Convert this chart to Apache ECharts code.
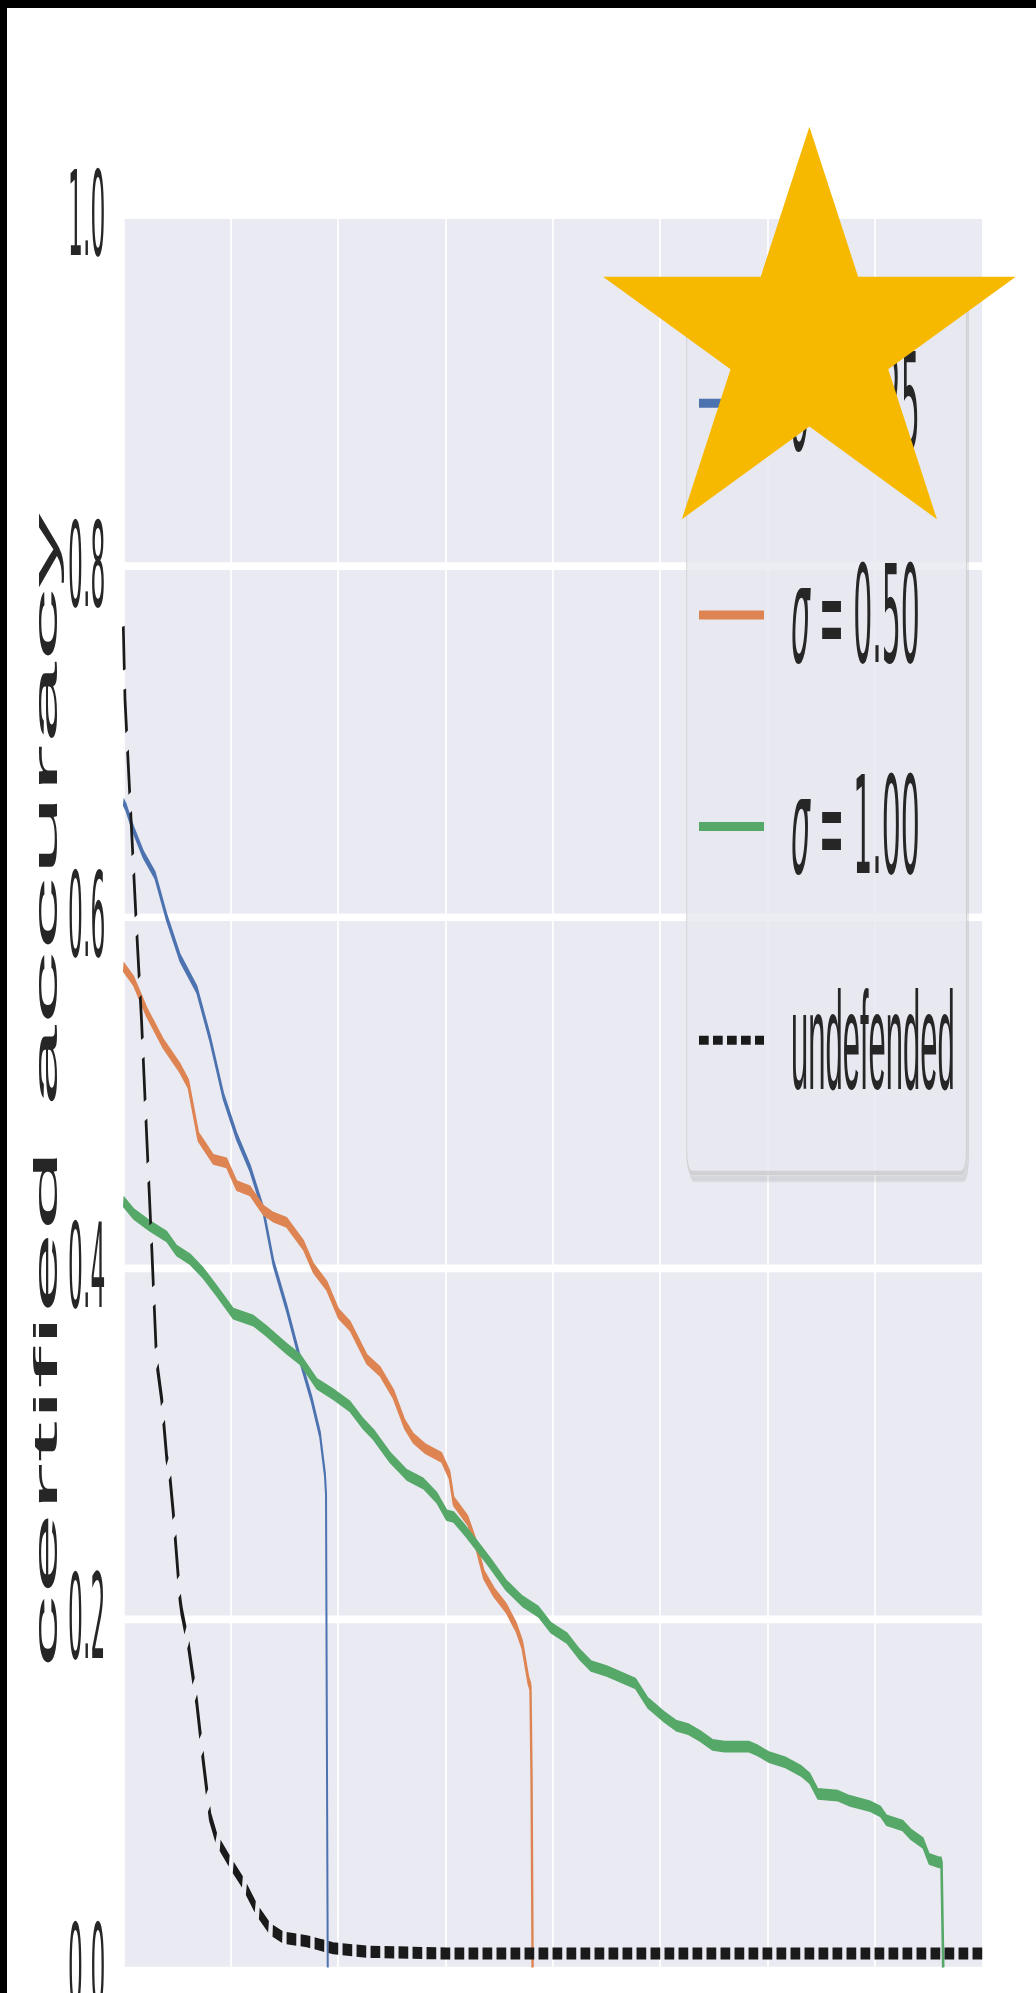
<!DOCTYPE html>
<html>
<head>
<meta charset="utf-8">
<script src="https://cdn.jsdelivr.net/npm/echarts@6/dist/echarts.min.js"></script>
<style>
html, body { margin: 0; padding: 0; background: #000; width: 1036px; height: 1993px; overflow: hidden; }
#page { position: absolute; left: 7px; top: 8px; width: 1029px; height: 1985px; background: #fff; overflow: hidden; }
#chart { position: absolute; left: 0; top: 0; width: 1029px; height: 441px; transform: scaleY(4.501134); transform-origin: 0 0; }
</style>
</head>
<body>
<div id="page"><div id="chart"></div></div>
<script>
// ---------------- data ----------------
const seriesNames = ['σ = 0.25', 'σ = 0.50', 'σ = 1.00', 'undefended'];
const yTickLabels = ['0.0', '0.2', '0.4', '0.6', '0.8', '1.0'];

const sigma025Radius = [0, 0.012, 0.047, 0.093, 0.148, 0.202, 0.264, 0.342, 0.404, 0.466, 0.528, 0.59, 0.652, 0.699, 0.761, 0.823, 0.877, 0.916, 0.939, 0.944, 0.948, 0.952];
const sigma025Acc    = [0.665, 0.662, 0.649, 0.635, 0.623, 0.599, 0.576, 0.558, 0.530, 0.497, 0.474, 0.456, 0.432, 0.402, 0.376, 0.347, 0.324, 0.304, 0.281, 0.270, 0.130, 0.000];

const sigma050Radius = [0, 0.047, 0.109, 0.186, 0.264, 0.303, 0.349, 0.419, 0.481, 0.528, 0.59, 0.652, 0.699, 0.761, 0.839, 0.885, 0.947, 1.002, 1.056, 1.134, 1.196, 1.258, 1.31, 1.35, 1.406, 1.482, 1.519, 1.538, 1.604, 1.641, 1.679, 1.726, 1.783, 1.83, 1.858, 1.886, 1.896, 1.901, 1.906];
const sigma050Acc    = [0.571, 0.563, 0.545, 0.527, 0.513, 0.504, 0.474, 0.461, 0.459, 0.446, 0.443, 0.432, 0.428, 0.425, 0.412, 0.399, 0.389, 0.373, 0.366, 0.347, 0.340, 0.327, 0.310, 0.302, 0.296, 0.291, 0.281, 0.266, 0.255, 0.242, 0.224, 0.214, 0.205, 0.194, 0.184, 0.164, 0.160, 0.108, 0.000];

const sigma100Radius = [0, 0.047, 0.124, 0.202, 0.248, 0.311, 0.373, 0.435, 0.512, 0.606, 0.668, 0.761, 0.823, 0.901, 0.978, 1.056, 1.118, 1.165, 1.242, 1.32, 1.398, 1.46, 1.506, 1.538, 1.594, 1.651, 1.707, 1.783, 1.858, 1.933, 1.99, 2.065, 2.122, 2.178, 2.254, 2.31, 2.385, 2.442, 2.518, 2.574, 2.631, 2.687, 2.744, 2.8, 2.913, 2.951, 3.007, 3.083, 3.158, 3.196, 3.234, 3.328, 3.384, 3.478, 3.526, 3.554, 3.629, 3.667, 3.724, 3.752, 3.799, 3.81, 3.818];
const sigma100Acc    = [0.437, 0.430, 0.423, 0.417, 0.409, 0.404, 0.396, 0.386, 0.373, 0.369, 0.363, 0.353, 0.347, 0.333, 0.327, 0.320, 0.310, 0.304, 0.291, 0.281, 0.276, 0.268, 0.258, 0.257, 0.249, 0.240, 0.231, 0.218, 0.209, 0.203, 0.194, 0.188, 0.179, 0.172, 0.169, 0.166, 0.162, 0.151, 0.143, 0.138, 0.136, 0.132, 0.127, 0.126, 0.126, 0.124, 0.120, 0.117, 0.112, 0.108, 0.099, 0.098, 0.095, 0.092, 0.089, 0.084, 0.081, 0.076, 0.071, 0.062, 0.060, 0.060, 0.000];

const undefRadius = [0, 0.008, 0.031, 0.062, 0.085, 0.109, 0.132, 0.155, 0.179, 0.202, 0.217, 0.233, 0.264, 0.272, 0.303, 0.342, 0.373, 0.404, 0.435, 0.497, 0.559, 0.621, 0.683, 0.745, 0.854, 0.916, 0.977, 1.133, 1.5, 2.0, 2.5, 3.0, 3.5, 4.0];
const undefAcc    = [0.765, 0.723, 0.667, 0.592, 0.540, 0.474, 0.412, 0.346, 0.324, 0.291, 0.280, 0.259, 0.210, 0.203, 0.184, 0.151, 0.117, 0.086, 0.073, 0.060, 0.048, 0.033, 0.022, 0.017, 0.015, 0.013, 0.011, 0.009, 0.008, 0.008, 0.008, 0.008, 0.008, 0.008];

// ---------------- layout helpers ----------------
const S = 1985 / 441;              // vertical stretch of the picture
const OX = 7, OY = 8;              // black border offset
const cy = sy => (sy - OY) / S;    // screen y -> chart y
const cx = sx => sx - OX;          // screen x -> chart x

const zip = (xs, ys) => xs.map((x, i) => [x, ys[i]]);
const TXT = '#262626';

// star decoration (regular five-pointed star on screen)
const starCX = 809.4, starCY = 343.7, starR = 217, starr = 217 * 0.382;
const starPts = [];
for (let i = 0; i < 10; i++) {
  const a = i * Math.PI / 5;
  const rho = (i % 2 === 0) ? starR : starr;
  starPts.push([cx(starCX + rho * Math.sin(a)), cy(starCY - rho * Math.cos(a))]);
}

const chart = echarts.init(document.getElementById('chart'), null, { renderer: 'svg' });

const gridLeft = cx(123.3), gridRight = 1029 - cx(982.3);
const gridTop = cy(214.5), gridBottom = 441 - cy(1967.5);

const lineSeries = (name, data, color, width, type) => ({
  name, type: 'line', data, showSymbol: false, symbol: 'none', smooth: false,
  lineStyle: { color, width, type: type || 'solid' },
  itemStyle: { color }, emphasis: { disabled: true }, clip: true
});

chart.setOption({
  animation: false,
  backgroundColor: 'transparent',
  grid: {
    left: gridLeft, right: gridRight, top: gridTop, bottom: gridBottom,
    show: true, backgroundColor: '#EAEAF2', borderWidth: 0,
    containLabel: false, outerBoundsMode: 'none'
  },
  xAxis: {
    type: 'value', min: 0, max: 4, interval: 0.5,
    axisLine: { show: false }, axisTick: { show: false }, axisLabel: { show: false },
    splitLine: { show: true, showMinLine: true, showMaxLine: true, lineStyle: { color: '#ffffff', width: 1.7 } }
  },
  yAxis: {
    type: 'value', min: 0, max: 1, interval: 0.2,
    axisLine: { show: false }, axisTick: { show: false },
    axisLabel: {
      margin: 18, color: TXT, fontSize: 26,
      fontFamily: "'Liberation Sans Narrow', 'DejaVu Sans Condensed', 'Liberation Sans', sans-serif",
      formatter: v => yTickLabels[Math.round(v / 0.2)]
    },
    splitLine: { show: true, showMinLine: true, showMaxLine: true, lineStyle: { color: '#ffffff', width: 1.7 } },
    name: 'certified accuracy', nameLocation: 'middle', nameGap: 61, nameMoveOverlap: false,
    nameTextStyle: { color: TXT, fontSize: 33, fontFamily: "'Liberation Sans', Arial, sans-serif" }
  },
  legend: {
    orient: 'vertical', left: cx(686.7), top: cy(280),
    padding: [12.4, 11.7, 14, 11.3], itemGap: 17, itemWidth: 65, itemHeight: 20,
    selectedMode: false,
    itemStyle: { opacity: 0 },
    backgroundColor: 'rgba(234,234,242,0.8)', borderColor: 'rgba(204,204,204,0.8)', borderWidth: 1, borderRadius: 5,
    shadowColor: 'rgba(0,0,0,0.10)', shadowOffsetX: 2, shadowOffsetY: 1.5, shadowBlur: 0,
    data: seriesNames,
    formatter: name => name === 'undefended' ? '{u|undefended}' : '{s|σ}{e|=}{n|' + name.split('= ')[1] + '}',
    textStyle: {
      color: TXT, padding: [0, 0, 0, 22], lineHeight: 30,
      rich: {
        s: { fontFamily: "'DejaVu Sans'", fontStyle: 'italic', fontSize: 30, lineHeight: 30, color: TXT },
        e: { fontFamily: "'DejaVu Sans'", fontSize: 30, lineHeight: 30, color: TXT, padding: [0, 9, 0, 9] },
        n: { fontFamily: "'DejaVu Sans'", fontSize: 30, lineHeight: 30, color: TXT },
        u: { fontFamily: "'Liberation Sans', Arial, sans-serif", fontSize: 31, lineHeight: 30, color: TXT }
      }
    }
  },
  series: [
    lineSeries(seriesNames[0], zip(sigma025Radius, sigma025Acc), '#4C72B0', 2.0),
    lineSeries(seriesNames[1], zip(sigma050Radius, sigma050Acc), '#DD8452', 2.4),
    lineSeries(seriesNames[2], zip(sigma100Radius, sigma100Acc), '#55A868', 2.6),
    lineSeries(seriesNames[3], zip(undefRadius, undefAcc), '#1a1a1a', 2.7, [9.7, 4.3])
  ],
  graphic: [{
    type: 'polygon', z: 1000, silent: true,
    shape: { points: starPts },
    style: { fill: '#F7B900', stroke: null }
  }]
});
</script>
</body>
</html>
